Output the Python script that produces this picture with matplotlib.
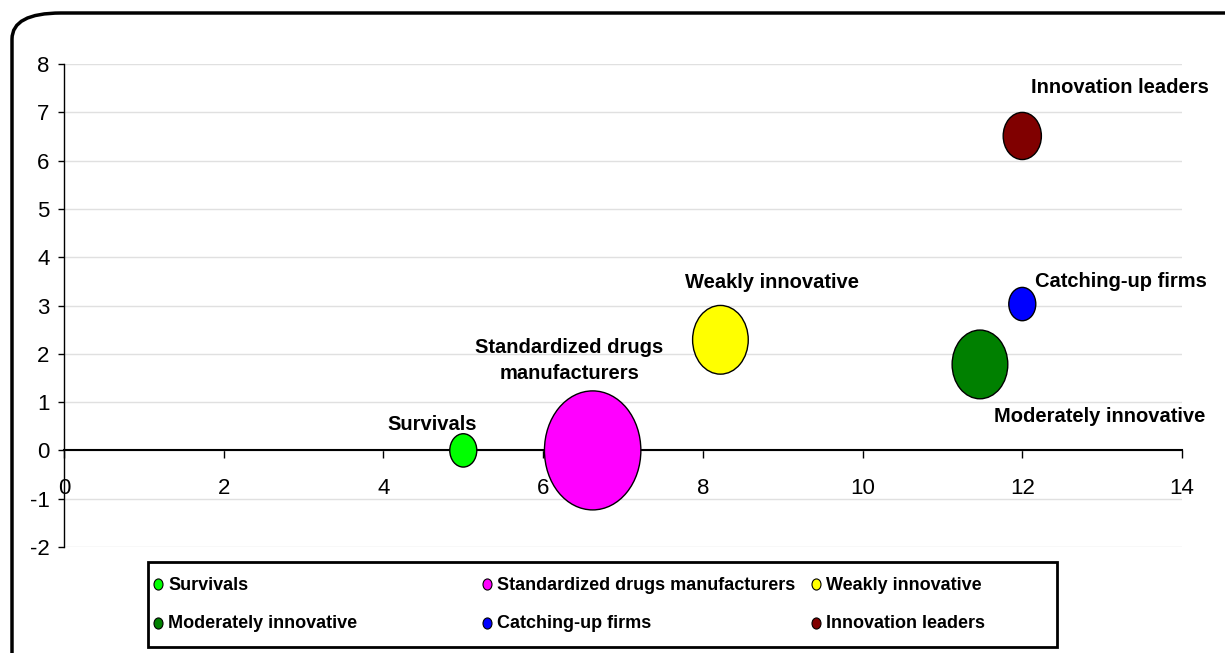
import numpy as np
import matplotlib.pyplot as plt
from matplotlib.path import Path
from matplotlib.patches import FancyBboxPatch, Rectangle
from matplotlib.lines import Line2D

# bubble data
groups = ['Survivals', 'Standardized drugs manufacturers', 'Weakly innovative',
          'Moderately innovative', 'Catching-up firms', 'Innovation leaders']
x_vals = [5.0, 6.62, 8.22, 11.47, 12.0, 12.0]
y_vals = [0.0, 0.0, 2.29, 1.78, 3.03, 6.51]
sizes = [4, 51, 17, 17, 4, 8]
colors = ['#00FF00', '#FF00FF', '#FFFF00', '#008000', '#0000FF', '#800000']
labels = ['Survivals', 'Standardized drugs\nmanufacturers', 'Weakly innovative',
          'Moderately innovative', 'Catching-up firms', 'Innovation leaders']
label_x = [4.61, 6.33, 8.86, 12.97, 13.23, 13.22]
label_y = [0.54, 1.86, 3.47, 0.70, 3.49, 7.52]

bold_font = ['Liberation Sans Narrow', 'Liberation Sans', 'DejaVu Sans']
plt.rcParams['font.family'] = ['Liberation Sans', 'DejaVu Sans']
plt.rcParams['axes.unicode_minus'] = False

W, H = 1225, 653

# stretched circle, like the source picture
circ = Path.unit_circle()
ellipse = Path(circ.vertices * [0.81, 1.0], circ.codes)

fig = plt.figure(figsize=(W / 100, H / 100), dpi=100)
ax = fig.add_axes([64 / W, 1 - 547 / H, (1182 - 64) / W, (547 - 64) / H])

ax.scatter(x_vals, y_vals, s=np.array(sizes) * 144, c=colors, marker=ellipse,
           edgecolors='black', linewidths=1, zorder=3, clip_on=False)

for lx, ly, txt in zip(label_x, label_y, labels):
    ax.text(lx, ly, txt, ha='center', va='center', fontsize=14.5, fontweight='bold',
            family=bold_font, linespacing=1.45, clip_on=False, zorder=4)

ax.set_xlim(0, 14)
ax.set_ylim(-2, 8)
ax.set_xticks(range(0, 15, 2))
ax.set_yticks(range(-2, 9))
ax.yaxis.grid(True, color='#e0e0e0', linewidth=1)
ax.set_axisbelow(True)

ax.spines['top'].set_visible(False)
ax.spines['right'].set_visible(False)
ax.spines['bottom'].set_position(('data', 0))
ax.spines['bottom'].set_linewidth(1.5)
ax.spines['left'].set_linewidth(1)
ax.tick_params(axis='x', direction='out', length=6, width=1, pad=14, labelsize=16)
ax.tick_params(axis='y', direction='out', length=4.5, width=1, pad=6, labelsize=16)

# legend box, Excel style: three fixed columns, filled row by row
fig.add_artist(Rectangle((148 / W, 1 - 647 / H), (1057 - 148) / W, (647 - 562) / H,
                         transform=fig.transFigure, fill=False,
                         edgecolor='black', linewidth=2))
col_x = [158, 487, 816]
row_y = [584, 623]
for i, name in enumerate(groups):
    cx = col_x[i % 3]
    cy = row_y[i // 3]
    fig.add_artist(Line2D([cx / W], [1 - cy / H], transform=fig.transFigure,
                          linestyle='none', marker=ellipse, markersize=8,
                          markerfacecolor=colors[i], markeredgecolor='black',
                          markeredgewidth=0.8))
    fig.text((cx + 10) / W, 1 - (cy + 1) / H, name, ha='left', va='center',
             fontsize=13, fontweight='bold', family=bold_font)

# rounded outer border
fig.patches.append(FancyBboxPatch((12 / W, -0.05), 1.1, 1 - 13 / H + 0.05,
                                  boxstyle='round,pad=0,rounding_size=0.04',
                                  transform=fig.transFigure, fill=False,
                                  edgecolor='black', linewidth=2.5))

fig.savefig('out.png', dpi=100)
